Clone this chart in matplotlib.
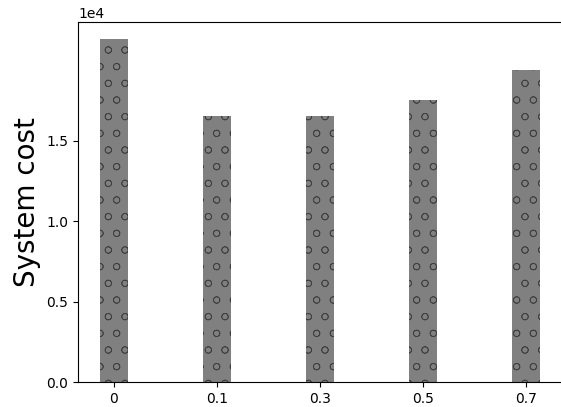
import numpy as np
import matplotlib
matplotlib.use("Agg")
import matplotlib.pyplot as plt

# values
categories = ["0", "0.1", "0.3", "0.5", "0.7"]
system_cost = [21340, 16550, 16550, 17550, 19410]

plt.rcParams["hatch.linewidth"] = 0.5

fig = plt.figure(figsize=(5.61, 4.07), dpi=100)
ax = fig.add_axes([78 / 561, 1 - 382 / 407, 1 - 78 / 561 + 0.002, (382 - 22) / 407])

x = np.arange(len(categories))
ax.bar(x, system_cost, width=0.27, color="#808080", edgecolor="#404040",
       linewidth=0, hatch="o")

ax.set_xticks(x)
ax.set_xticklabels(categories)
ax.set_ylim(0, 22400)
ax.set_yticks([0, 5000, 10000, 15000])
ax.ticklabel_format(axis="y", style="sci", scilimits=(4, 4))
ax.set_ylabel("System cost", fontsize=20)

fig.savefig("out.png", dpi=100)
